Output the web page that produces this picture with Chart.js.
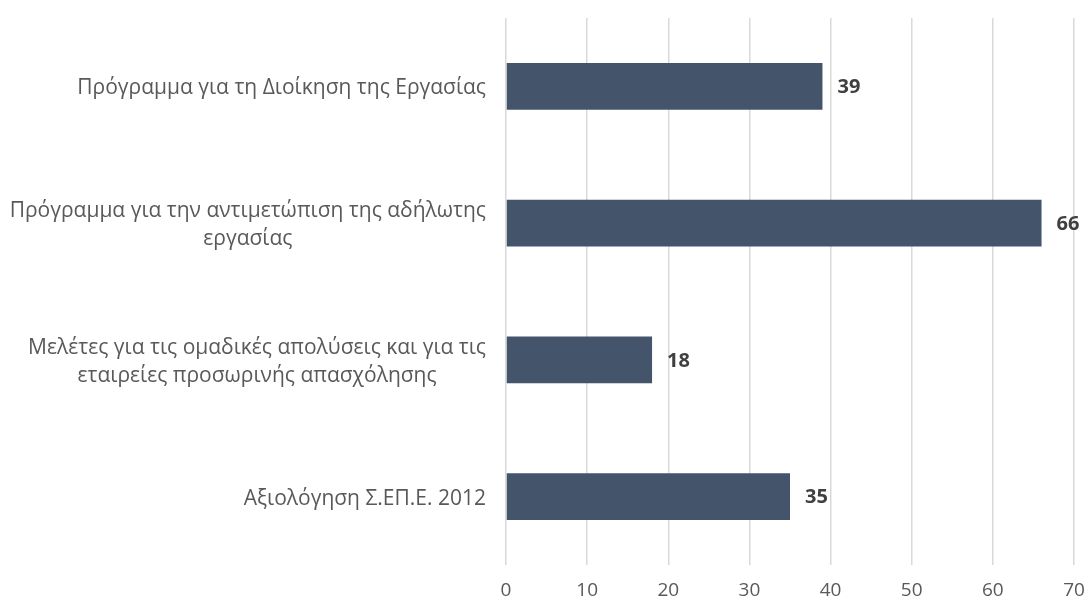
<!DOCTYPE html>
<html>
<head>
<meta charset="utf-8">
<script src="https://cdn.jsdelivr.net/npm/chart.js@4/dist/chart.umd.min.js"></script>
<style>
  html, body { margin: 0; background: #fff; }
</style>
</head>
<body>
<canvas id="chart" width="1089" height="605"></canvas>
<script>
// category names, one array entry per printed line
const categories = [
  ["Πρόγραμμα για τη Διοίκηση της Εργασίας"],
  ["Πρόγραμμα για την αντιμετώπιση της αδήλωτης", "εργασίας"],
  ["Μελέτες για τις ομαδικές απολύσεις και για τις", "εταιρείες προσωρινής απασχόλησης"],
  ["Αξιολόγηση Σ.ΕΠ.Ε. 2012"],
];
const values = [39, 66, 18, 35];
const xMin = 0;
const xMax = 70;
const xStep = 10;

const FONT = '"Open Sans", sans-serif';
const BAR_COLOR = '#44546a';

// y labels: lines centred on each other, block right-aligned to the axis
const categoryLabels = {
  id: 'categoryLabels',
  afterDraw(chart) {
    const { ctx, scales: { y }, chartArea } = chart;
    ctx.save();
    ctx.font = '21px ' + FONT;
    ctx.fillStyle = '#595959';
    ctx.textAlign = 'center';
    ctx.textBaseline = 'middle';
    const right = chartArea.left - 20;
    const lineHeight = 28;
    categories.forEach((lines, i) => {
      const yc = y.getPixelForTick(i) + 2;
      const w = Math.max(...lines.map(l => ctx.measureText(l).width));
      const cx = right - w / 2;
      lines.forEach((line, j) => {
        ctx.fillText(line, cx, yc + (j - (lines.length - 1) / 2) * lineHeight);
      });
    });
    ctx.restore();
  }
};

// bold value at the end of every bar
const valueLabels = {
  id: 'valueLabels',
  afterDatasetsDraw(chart) {
    const { ctx } = chart;
    const meta = chart.getDatasetMeta(0);
    ctx.save();
    ctx.font = 'bold 20px ' + FONT;
    ctx.fillStyle = '#404040';
    ctx.textAlign = 'left';
    ctx.textBaseline = 'middle';
    meta.data.forEach((bar, i) => {
      ctx.fillText(String(values[i]), bar.x + 15, bar.y + 1);
    });
    ctx.restore();
  }
};

new Chart(document.getElementById('chart'), {
  type: 'bar',
  data: {
    labels: categories,
    datasets: [{
      data: values,
      backgroundColor: BAR_COLOR,
      categoryPercentage: 1,
      barPercentage: 0.343,
    }]
  },
  options: {
    indexAxis: 'y',
    responsive: false,
    animation: false,
    layout: { padding: { top: 18, right: 5, left: 0, bottom: 0 } },
    plugins: {
      legend: { display: false },
      tooltip: { enabled: false },
    },
    scales: {
      x: {
        min: xMin,
        max: xMax,
        ticks: {
          stepSize: xStep,
          color: '#595959',
          font: { family: FONT, size: 19 },
          padding: 14,
        },
        grid: { color: '#d9d9d9', lineWidth: 1.5, drawTicks: false },
        border: { display: false },
        afterFit: s => {
          s.height = 40;
          s.paddingRight = 15;
        },
      },
      y: {
        ticks: { display: false },
        grid: { display: false },
        border: { display: false },
        afterFit: s => { s.width = 506; },
      }
    }
  },
  plugins: [categoryLabels, valueLabels]
});
</script>
</body>
</html>
